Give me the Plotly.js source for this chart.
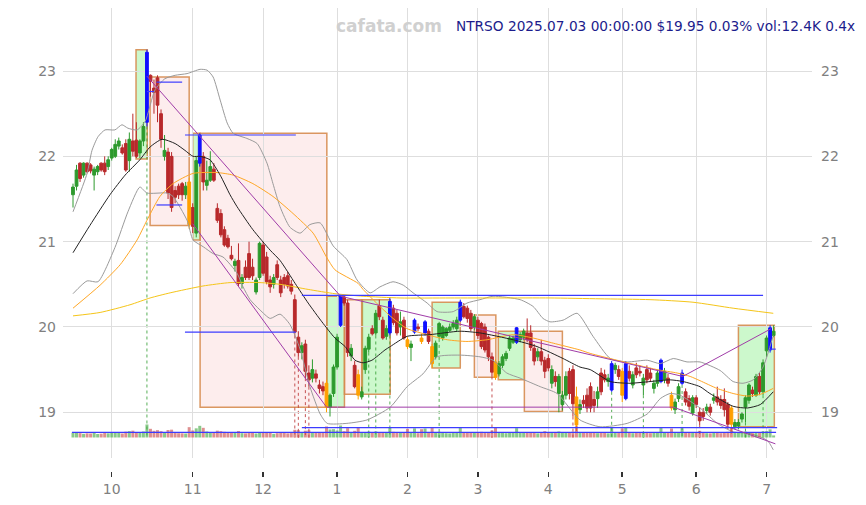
<!DOCTYPE html>
<html><head><meta charset="utf-8">
<script src="https://cdn.plot.ly/plotly-3.0.1.min.js"></script>
<style>html,body{margin:0;padding:0;background:#fff}#chart{width:866px;height:505px}</style>
</head><body><div id="chart"></div>
<script>
// ---- month ticks (trading-day index) ----
const MONTH_TICK_INDEX = [11,34,54,75,95,115,135,156,177,197];
const MONTH_LABELS = ['10','11','12','1','2','3','4','5','6','7'];
const PRICE_TICKS = [19,20,21,22,23];

// ---- daily OHLC (Sep 16 2024 .. Jul 3 2025) ----
const OPEN = [21.55,21.65,21.92,21.78,21.92,21.90,21.78,21.82,21.92,21.92,21.88,21.98,22.00,22.12,22.10,22.15,21.95,22.18,22.19,22.04,
22.18,22.40,22.95,22.80,22.92,22.50,22.00,22.05,22.00,21.60,21.65,21.68,21.55,21.70,21.40,21.10,21.92,22.00,21.66,21.72,
21.85,21.39,21.33,21.14,21.04,20.84,20.72,20.78,20.51,20.70,20.86,20.70,20.41,20.58,20.96,20.82,20.55,20.50,20.73,20.55,
20.58,20.60,20.50,20.32,19.88,19.70,19.80,19.46,19.40,19.45,19.32,19.30,19.34,19.06,19.22,19.53,20.02,20.35,20.28,19.66,
19.55,19.44,19.18,19.50,19.74,19.98,19.93,20.25,20.08,19.89,19.93,20.22,20.16,20.00,20.08,19.85,19.76,19.94,20.00,19.87,
19.93,19.95,19.77,19.65,19.89,19.87,19.90,19.96,20.00,19.98,20.08,20.24,20.22,20.16,20.00,20.08,20.04,20.00,19.88,19.65,
19.59,19.45,19.55,19.63,19.75,19.82,19.82,19.85,19.88,19.93,19.93,19.75,19.65,19.71,19.61,19.63,19.34,19.42,19.22,19.09,
19.20,19.48,19.50,19.18,19.03,19.14,19.20,19.30,19.15,19.16,19.46,19.44,19.36,19.26,19.50,19.50,19.48,19.16,19.48,19.32,
19.52,19.48,19.32,19.50,19.46,19.28,19.34,19.36,19.38,19.40,19.20,19.03,19.16,19.34,19.24,19.16,18.99,19.17,19.00,19.00,
19.02,19.06,19.14,19.18,19.15,19.15,19.09,19.05,18.83,18.84,18.92,19.06,19.14,19.26,19.20,19.42,19.24,19.72,19.73,19.90];
const HIGH = [21.68,21.90,21.93,21.93,21.93,21.92,21.88,21.90,21.93,22.00,22.00,22.10,22.20,22.22,22.14,22.20,22.28,22.50,22.40,22.20,
22.40,23.25,22.96,22.90,22.95,22.55,22.25,22.10,22.05,21.65,21.68,21.70,21.70,21.75,21.45,22.00,22.27,22.05,21.95,22.06,
21.92,21.45,21.38,21.18,21.08,20.95,20.80,20.98,20.62,20.78,21.00,20.80,20.58,21.00,21.00,20.88,20.60,20.62,20.78,20.60,
20.62,20.65,20.55,20.38,19.95,19.82,19.85,19.55,19.62,19.50,19.38,19.36,19.38,19.22,19.56,19.92,20.38,20.38,20.32,19.80,
19.60,19.50,19.30,19.78,19.92,20.02,20.20,20.32,20.12,20.02,20.35,20.26,20.20,20.18,20.12,19.88,19.84,20.10,20.04,19.92,
20.08,19.98,19.80,19.84,20.06,20.02,20.00,20.04,20.08,20.12,20.32,20.28,20.25,20.20,20.15,20.12,20.06,20.04,19.90,19.70,
19.62,19.60,19.68,19.72,19.90,19.90,20.00,19.94,19.98,20.10,20.02,19.80,19.75,19.85,19.65,19.68,19.55,19.48,19.45,19.25,
19.48,19.52,19.55,19.30,19.15,19.20,19.28,19.35,19.25,19.30,19.52,19.50,19.45,19.60,19.58,19.55,19.52,19.60,19.55,19.48,
19.58,19.55,19.45,19.55,19.52,19.38,19.50,19.63,19.52,19.45,19.24,19.16,19.34,19.50,19.28,19.20,19.20,19.20,19.06,19.05,
19.10,19.10,19.22,19.30,19.20,19.28,19.12,19.08,18.92,18.92,19.00,19.20,19.34,19.30,19.45,19.46,19.62,19.90,20.02,20.02];
const LOW = [21.40,21.60,21.70,21.75,21.80,21.80,21.60,21.78,21.82,21.78,21.84,21.95,21.98,22.08,22.02,21.82,21.82,22.00,21.98,21.98,
22.12,22.35,22.70,22.50,22.40,22.10,21.95,21.50,21.35,21.45,21.50,21.48,21.50,21.15,21.10,21.05,21.88,21.60,21.60,21.70,
21.70,21.22,21.05,20.94,20.92,20.78,20.65,20.48,20.45,20.55,20.55,20.55,20.38,20.55,20.60,20.50,20.40,20.45,20.55,20.35,
20.45,20.45,20.38,19.90,19.65,19.62,19.40,19.30,19.35,19.35,19.22,19.20,19.00,18.95,19.18,19.50,20.00,20.25,19.65,19.60,
19.28,19.15,19.15,19.45,19.70,19.90,19.90,20.08,19.85,19.85,19.90,20.02,19.90,19.90,19.85,19.74,19.60,19.92,19.95,19.80,
19.90,19.80,19.52,19.62,19.86,19.84,19.88,19.94,19.97,19.95,20.06,20.10,20.05,19.95,19.96,19.86,19.74,19.70,19.60,19.42,
19.38,19.42,19.52,19.60,19.72,19.80,19.80,19.82,19.85,19.82,19.72,19.55,19.60,19.55,19.40,19.48,19.28,19.30,19.00,19.02,
19.15,19.15,18.95,18.78,18.98,19.05,19.00,19.00,19.00,19.05,19.20,19.35,19.30,19.24,19.45,19.38,19.12,19.14,19.36,19.28,
19.40,19.42,19.20,19.34,19.36,19.22,19.30,19.34,19.34,19.30,19.02,18.98,19.12,19.32,19.08,19.02,18.96,19.05,18.85,18.90,
18.98,18.96,19.10,19.08,19.04,18.95,18.80,18.75,18.80,18.80,18.88,18.88,19.10,19.18,19.18,19.20,19.20,19.65,19.70,19.88];
const CLOSE = [21.64,21.84,21.74,21.92,21.82,21.83,21.85,21.88,21.84,21.82,21.96,22.08,22.14,22.18,22.04,21.84,22.20,22.06,22.00,22.18,
22.35,23.22,22.88,22.75,22.60,22.20,22.07,21.57,21.40,21.52,21.55,21.55,21.65,21.20,21.18,21.95,22.25,21.70,21.72,21.88,
21.72,21.25,21.08,20.96,20.94,20.80,20.77,20.51,20.58,20.58,20.58,20.60,20.55,20.98,20.63,20.53,20.47,20.58,20.58,20.40,
20.50,20.48,20.42,19.94,19.70,19.78,19.48,19.38,19.50,19.40,19.28,19.25,19.06,19.20,19.53,19.88,20.36,20.28,19.70,19.75,
19.30,19.20,19.24,19.75,19.88,19.92,20.16,20.12,19.87,19.98,20.30,20.05,19.93,20.06,19.87,19.77,19.80,20.08,19.98,19.83,
20.06,19.83,19.57,19.81,20.04,20.00,19.98,20.00,20.04,20.08,20.29,20.12,20.10,19.98,20.12,19.90,19.77,19.73,19.65,19.47,
19.41,19.57,19.65,19.69,19.87,19.87,19.99,19.91,19.95,19.85,19.76,19.60,19.71,19.60,19.48,19.52,19.50,19.36,19.42,19.20,
19.42,19.22,19.10,18.85,19.09,19.10,19.05,19.05,19.08,19.24,19.24,19.38,19.40,19.57,19.55,19.42,19.20,19.57,19.40,19.44,
19.44,19.46,19.40,19.38,19.40,19.34,19.46,19.61,19.48,19.34,19.05,19.12,19.30,19.46,19.12,19.07,19.17,19.09,18.90,18.95,
19.06,19.00,19.17,19.12,19.08,19.03,18.86,18.86,18.88,18.88,18.98,19.17,19.32,19.22,19.42,19.24,19.58,19.87,19.99,19.95];
// volume in thousands of shares
const VOLUME_K = [28,31,26,22,25,24,30,21,23,27,25,29,33,27,24,35,38,41,30,27,
36,78,52,40,44,38,31,45,47,30,26,25,24,62,42,55,70,58,36,33,
29,41,38,34,30,28,27,39,26,25,31,27,24,33,29,30,27,22,26,31,
28,25,27,46,44,30,41,43,28,27,29,30,66,48,50,42,72,38,56,31,
40,60,29,33,35,28,36,30,32,27,58,34,31,28,30,52,27,55,26,50,
54,29,61,30,34,28,26,25,27,29,57,31,30,33,30,28,34,32,31,42,
60,28,27,26,31,29,56,27,28,30,31,33,25,29,38,31,32,30,36,28,
27,33,35,68,29,27,30,31,28,26,33,29,25,58,27,30,55,60,28,26,
29,27,33,28,26,27,30,57,29,28,54,27,31,56,30,28,33,29,40,27,
26,25,28,27,26,30,34,59,32,28,27,35,33,26,31,30,36,38,49,12.4];
const VOLUME_AVG_K = 31;
// candle marks: blue (strong up), orange (strong down)
const FLAG_BLUE = [21,36,76,90,97,100,110,126,153,157,167,173,198];
const FLAG_ORANGE = [33,72,81,95,99,102,120,143,156,170,187];
// dotted signal markers (day index)
const SIGNAL_UP = [21,84,86,90,104,153,162,173,191,196];
const SIGNAL_DOWN = [63,64,66,67,119,142,178];

// ---- indicator lines (day index, price) ----
const MID_X = [0,4.8,10.5,14.8,19,21.9,25.3,29,31.8,34.1,36.1,38.9,41.8,44.6,46.6,51.1,56,58.8,63.1,66.8,70.7,74.4,77.3,80.1,82.4,84.9,88.6,90.1,94.9,101.4,109.9,115.6,125,131.8,139.2,144,146.9,152.6,158.2,163.9,169.6,173.3,178.1,180.9,187.5,191.5,195.2,198.9];
const MID_Y = [20.87,21.19,21.55,21.78,21.96,22.11,22.20,22.15,22.07,22.00,22.00,21.96,21.78,21.55,21.41,21.14,20.90,20.78,20.51,20.28,20.06,19.87,19.77,19.61,19.58,19.61,19.73,19.77,19.89,19.91,19.95,19.93,19.85,19.77,19.63,19.53,19.50,19.36,19.34,19.36,19.38,19.36,19.30,19.22,19.07,19.05,19.09,19.24];
const UPPER_X = [0,4,5.4,7.1,9.1,11.9,13.9,15.6,18.2,20.5,23.3,26.1,29,32.4,36.1,38.1,39.8,41.8,43.8,45.5,49.4,52.3,55.1,56.8,58.8,61.6,64.5,67.3,70.2,73.9,77.8,80.7,84.4,87.2,90.9,93.8,96.6,100.6,103.4,108,111.9,115.6,119.3,127,130.7,133.5,135.5,139.2,143.2,147.7,152.6,157.4,163.1,166.8,170.5,174.4,178.1,183.8,187.5,190.3,193.2,196,198.9];
const UPPER_Y = [21.35,21.80,22.07,22.23,22.31,22.31,22.37,22.33,22.31,22.41,22.78,22.91,22.95,22.97,23.02,23.01,22.93,22.66,22.39,22.27,22.21,22.15,21.92,21.68,21.41,21.17,21.10,21.20,21.22,20.95,20.79,20.55,20.40,20.47,20.53,20.49,20.40,20.28,20.18,20.18,20.28,20.32,20.36,20.32,20.24,20.10,20.06,20.08,20.16,19.89,19.63,19.59,19.61,19.57,19.63,19.59,19.59,19.49,19.36,19.34,19.38,19.53,19.90];
const LOWER_X = [0,4,7.1,11.9,15.6,19,21,26.7,28.4,32.4,34.1,37,39.8,42.6,46.6,48.3,50.3,53.1,56,58.8,61.6,64.5,67.3,70.2,72.2,77.8,83.5,90.1,94.9,99.4,103.4,109.9,115.6,119.3,123.2,127,132.7,137.5,144,149.7,157.4,163.1,166.8,169.6,172.4,178.1,183,187.5,192.3,197.2,198.9];
const LOWER_Y = [20.39,20.54,20.53,20.93,21.35,21.64,21.57,21.57,21.53,21.25,21.02,20.94,20.86,20.82,20.63,20.47,20.32,20.20,20.10,20.15,20.03,19.74,19.30,18.98,18.87,18.87,18.91,19.06,19.30,19.45,19.65,19.67,19.65,19.61,19.46,19.40,19.30,19.22,18.91,18.83,18.87,18.98,19.16,19.22,19.20,19.05,18.87,18.77,18.75,18.67,18.56];
const MA50_X = [0,7.7,13.4,18.2,21,24.7,28.4,34.1,40.9,45.5,51.1,56.8,62.5,68.2,72,74.4,81,82.4,87.2,90.9,94.9,100.6,106.3,111.9,117.6,125,130.7,136.4,144,146.9,154.5,165.9,171.6,175.3,178.1,182.9,187.5,191.5,195.2,198.9];
const MA50_Y = [20.22,20.49,20.73,21.02,21.25,21.53,21.68,21.80,21.81,21.78,21.68,21.53,21.33,21.10,20.82,20.67,20.51,20.44,20.24,20.10,19.98,19.91,19.85,19.83,19.85,19.91,19.87,19.81,19.73,19.69,19.61,19.50,19.46,19.42,19.37,19.28,19.22,19.19,19.21,19.28];
const MA200_X = [0,7.7,16.2,21.9,27.6,36.9,44.6,53.1,58.8,66.8,74.4,82.4,92.9,107.1,121.3,135.5,149.7,163.9,176.1,187.5,198.9];
const MA200_Y = [20.13,20.17,20.26,20.34,20.40,20.48,20.52,20.52,20.50,20.44,20.39,20.36,20.34,20.34,20.34,20.34,20.33,20.32,20.29,20.22,20.16];

// ---- zones (day index from/to, price low/high, up = green) ----
const ZONE_X0 = [17.9,21.9,34.0,36.1,72.1,77.1,82.0,102.0,114.0,120.8,128.2,189.0];
const ZONE_X1 = [21.1,33.0,36.1,72.1,77.1,82.2,90.1,110.0,120.1,128.2,139.0,199.2];
const ZONE_LO = [21.97,21.19,21.02,19.06,19.06,19.21,19.21,19.52,19.41,19.38,19.01,18.83];
const ZONE_HI = [23.25,22.93,22.27,22.27,20.36,20.32,20.32,20.29,20.14,19.95,19.95,20.02];
const ZONE_UP = [true,false,true,false,true,false,true,true,false,true,false,true];
// trend lines (purple)
const TREND_X0 = [21.0,34.0,76.0,173.2,72.0,170.5];
const TREND_Y0 = [22.94,21.21,20.36,19.42,19.06,19.06];
const TREND_X1 = [76.0,72.0,173.2,198.3,170.5,199.5];
const TREND_Y1 = [20.36,19.06,19.42,19.98,19.06,18.63];
// support / resistance levels (blue)
const LEVEL_X0 = [23.7,21.0,23.7,31.8,31.8,65.0,65.0,198.0];
const LEVEL_X1 = [31.0,23.0,31.0,63.3,63.3,196.0,200.0,199.6];
const LEVEL_Y  = [22.87,22.76,21.43,22.25,19.94,20.37,18.82,19.74];

const N = OPEN.length;
const IDX = OPEN.map((_, i) => i);
const pick = (arr, ids) => ids.map(i => arr[i]);
const special = new Set([...FLAG_BLUE, ...FLAG_ORANGE]);
const NORMAL = IDX.filter(i => !special.has(i));

const GREEN = '#2d9a2d', RED = '#b8292b';
function candle(ids, up, down, name) {
  return {type:'candlestick', x: ids, open: pick(OPEN, ids), high: pick(HIGH, ids), low: pick(LOW, ids), close: pick(CLOSE, ids),
    increasing:{line:{color:up, width:1}, fillcolor:up}, decreasing:{line:{color:down, width:1}, fillcolor:down},
    whiskerwidth:0, name, showlegend:false, hoverinfo:'skip', xaxis:'x', yaxis:'y'};
}
function line(xs, ys, color, w) {
  return {type:'scatter', mode:'lines', x: xs, y: ys, line:{color, width:w, shape:'spline', smoothing:0.6},
    hoverinfo:'skip', showlegend:false, xaxis:'x', yaxis:'y'};
}

const traces = [
  {type:'bar', x: IDX, y: VOLUME_K, yaxis:'y2', xaxis:'x',
   marker:{color: IDX.map(i => CLOSE[i] >= OPEN[i] ? 'rgba(60,165,60,0.6)' : 'rgba(200,70,70,0.6)'), line:{width:0}},
   width:0.85, hoverinfo:'skip', showlegend:false},
  {type:'scatter', mode:'lines', x:[-0.3, N - 0.3], y:[VOLUME_AVG_K, VOLUME_AVG_K], yaxis:'y2', xaxis:'x',
   line:{color:'#3b3bff', width:1.3}, hoverinfo:'skip', showlegend:false},
  line(UPPER_X, UPPER_Y, '#9a9a9a', 1),
  line(LOWER_X, LOWER_Y, '#9a9a9a', 1),
  line(MA200_X, MA200_Y, '#f5c518', 1),
  line(MA50_X, MA50_Y, '#ffa726', 1),
  line(MID_X, MID_Y, '#222222', 1),
  candle(NORMAL, GREEN, RED, 'price'),
  candle(FLAG_BLUE, '#1010ff', '#1010ff', 'strong up'),
  candle(FLAG_ORANGE, '#ffa000', '#ffa000', 'strong down'),
];

const shapes = [];
ZONE_X0.forEach((x0, k) => {
  shapes.push({type:'rect', xref:'x', yref:'y', layer:'below', x0, x1: ZONE_X1[k], y0: ZONE_LO[k], y1: ZONE_HI[k],
    fillcolor: ZONE_UP[k] ? 'rgba(40,225,40,0.24)' : 'rgba(240,110,110,0.12)',
    line:{color:'rgba(214,140,80,0.9)', width:1.5}});
});
const volBase = 18.70;
SIGNAL_UP.forEach(i => shapes.push({type:'line', xref:'x', yref:'y', layer:'below', x0:i, x1:i, y0:LOW[i], y1:volBase,
  line:{color:'rgba(45,154,45,0.8)', width:1, dash:'dot'}}));
SIGNAL_DOWN.forEach(i => shapes.push({type:'line', xref:'x', yref:'y', layer:'below', x0:i, x1:i, y0:LOW[i], y1:volBase,
  line:{color:'rgba(184,41,43,0.8)', width:1, dash:'dot'}}));
TREND_X0.forEach((x0, k) => shapes.push({type:'line', xref:'x', yref:'y', x0, y0: TREND_Y0[k], x1: TREND_X1[k], y1: TREND_Y1[k],
  line:{color:'#a03ca8', width:1}}));
LEVEL_X0.forEach((x0, k) => shapes.push({type:'line', xref:'x', yref:'y', x0, x1: LEVEL_X1[k], y0: LEVEL_Y[k], y1: LEVEL_Y[k],
  line:{color:'rgb(60,60,255)', width:1.2}}));

const FONT = 'DejaVu Sans, sans-serif';
const yRange = [18.464, 23.739];
const layout = {
  width:866, height:505, paper_bgcolor:'#fff', plot_bgcolor:'#fff',
  margin:{l:63, r:54, t:8, b:34},
  showlegend:false, hovermode:false, boxmode:'overlay', boxgap:0.12, boxgroupgap:0.1,
  xaxis:{range:[-2.84, 209.9], anchor:'free', position:0, tickvals: MONTH_TICK_INDEX, ticktext: MONTH_LABELS,
    showgrid:true, gridcolor:'#dedede', gridwidth:1, zeroline:false, showline:false,
    ticks:'outside', ticklen:5, tickwidth:1.5, tickcolor:'#333',
    tickfont:{family:FONT, size:14, color:'#808080'}, rangeslider:{visible:false}, fixedrange:true},
  yaxis:{domain:[0.0281, 1], range:yRange, tickvals: PRICE_TICKS, ticktext: PRICE_TICKS.map(String),
    showgrid:true, gridcolor:'#dedede', zeroline:false, showline:false, ticks:'', ticklabelstandoff:6,
    tickfont:{family:FONT, size:14, color:'#808080'}, fixedrange:true},
  yaxis3:{domain:[0.0281, 1], overlaying:'y', side:'right', range:yRange, tickvals: PRICE_TICKS, ticktext: PRICE_TICKS.map(String),
    showgrid:false, zeroline:false, showline:false, ticks:'', ticklabelstandoff:8,
    tickfont:{family:FONT, size:14, color:'#808080'}, fixedrange:true},
  yaxis2:{domain:[0.0281, 1], overlaying:'y', range:[-123, 2577], visible:false, fixedrange:true},
  shapes,
  annotations:[
    {xref:'paper', yref:'paper', x:0.435, y:0.962, xanchor:'center', yanchor:'middle', showarrow:false,
     text:'<b>cafata.com</b>', font:{family:FONT, size:17, color:'#d0d0d0'}},
    {xref:'paper', yref:'paper', x:1.06, y:0.962, xanchor:'right', yanchor:'middle', showarrow:false,
     text:'NTRSO 2025.07.03 00:00:00 $19.95 0.03% vol:12.4K 0.4x', font:{family:FONT, size:13.7, color:'#1c1c8c'}}
  ]
};
traces.push({type:'scatter', mode:'lines', x:[0], y:[20], yaxis:'y3', xaxis:'x', line:{width:0}, hoverinfo:'skip', showlegend:false, opacity:0});

Plotly.newPlot('chart', traces, layout, {staticPlot:true, displayModeBar:false});
</script></body></html>
